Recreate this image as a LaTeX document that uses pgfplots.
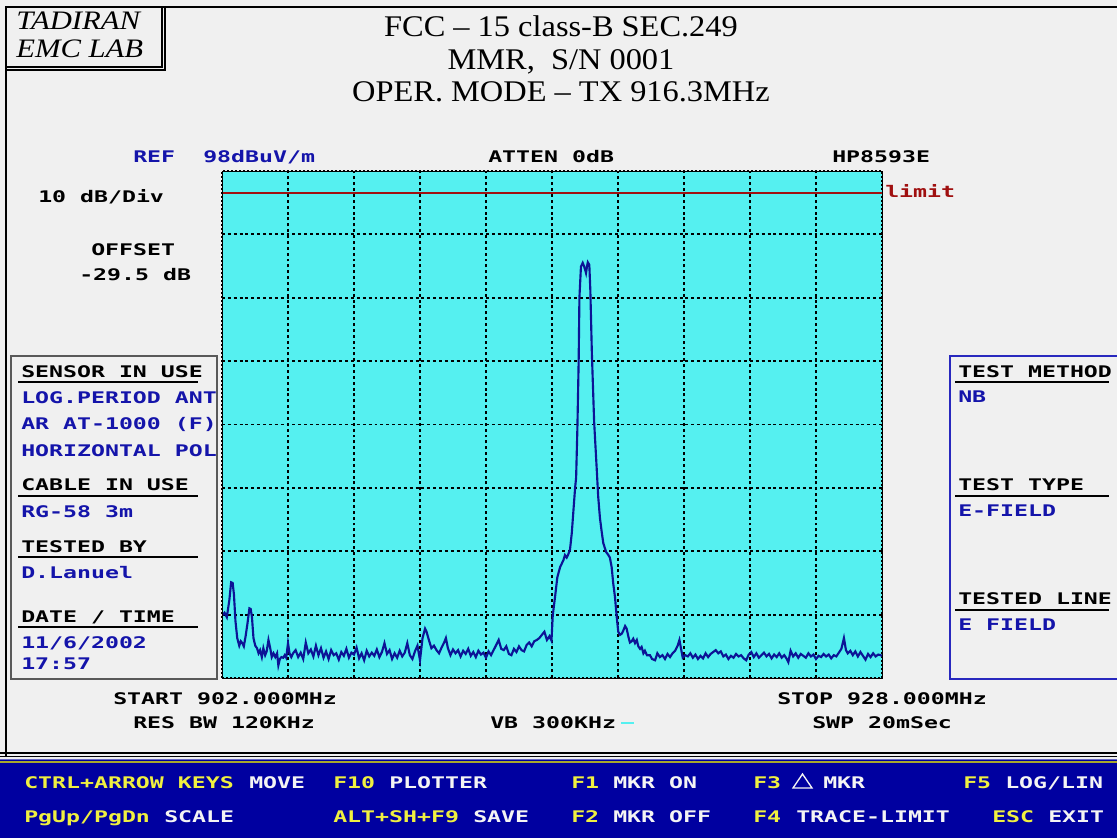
\documentclass[border=0pt]{standalone}
\usepackage{pgfplots}
\pgfplotsset{compat=1.18}
\usepackage{fontspec}
\setmainfont{Liberation Serif}
\newfontfamily\pixfont{DejaVu Sans Mono Bold}[FakeStretch=1.45]
\newfontfamily\ttlfont{Liberation Serif}[FakeStretch=1.08]
\newfontfamily\logofont{Liberation Serif Italic}[FakeStretch=1.15]
\newcommand\px{\pixfont\fontsize{12pt}{12pt}\selectfont}
\newcommand\ttl{\ttlfont\fontsize{22.5pt}{22.5pt}\selectfont}

\definecolor{bg}{RGB}{240,240,240}
\definecolor{scr}{RGB}{85,240,240}
\definecolor{trace}{RGB}{12,20,150}
\definecolor{tblue}{RGB}{20,20,170}
\definecolor{limred}{RGB}{160,16,16}
\definecolor{bar}{RGB}{0,0,160}
\definecolor{keyy}{RGB}{240,240,64}
\definecolor{keyw}{RGB}{244,244,244}
\definecolor{boxblue}{RGB}{40,40,190}

\begin{document}
\begin{tikzpicture}
\begin{scope}[x=0.75pt,y=-0.75pt]
\fill[bg] (0,0) rectangle (1117,838);
\useasboundingbox (0,0) rectangle (1117,838);

% screen frame
\draw[line width=0.9pt] (6,756) -- (6,7) -- (1117,7);
\draw[line width=0.9pt] (0,753) -- (1117,753);
\draw[line width=0.9pt] (0,756.5) -- (1117,756.5);

% logo
\draw[line width=0.8pt] (6,7) rectangle (162,67);
\draw[line width=0.8pt] (165,7) -- (165,70) -- (6,70);
\node[anchor=base west, inner sep=0] at (16,30) {\logofont\fontsize{20pt}{20pt}\selectfont TADIRAN};
\node[anchor=base west, inner sep=0] at (16,58) {\logofont\fontsize{20pt}{20pt}\selectfont EMC LAB};

% title
\node[anchor=base, inner sep=0] at (561,37) {\ttl FCC – 15 class-B SEC.249};
\node[anchor=base, inner sep=0] at (561,70) {\ttl MMR,\ \ S/N 0001};
\node[anchor=base, inner sep=0] at (561,102) {\ttl OPER. MODE – TX 916.3MHz};

% header line
\node[anchor=base west, inner sep=0, text=tblue] at (133,163) {\px REF};
\node[anchor=base west, inner sep=0, text=tblue] at (203,163) {\px 98dBuV/m};
\node[anchor=base west, inner sep=0] at (488,163) {\px ATTEN 0dB};
\node[anchor=base west, inner sep=0] at (832,163) {\px HP8593E};
\node[anchor=base west, inner sep=0] at (38,203) {\px 10 dB/Div};
\node[anchor=base west, inner sep=0] at (91,255) {\px OFFSET};
\node[anchor=base west, inner sep=0] at (79,280) {\px -29.5 dB};
\node[anchor=base west, inner sep=0, text=limred] at (885,197) {\px limit};

% left box
\draw[line width=1.2pt, black!65] (11,356) rectangle (217,679);
\foreach \yy in {382,496,557,627} \draw[line width=1pt] (18,\yy) -- (198,\yy);
\node[anchor=base west, inner sep=0] at (21,377) {\px SENSOR IN USE};
\node[anchor=base west, inner sep=0, text=tblue] at (21,403) {\px LOG.PERIOD ANT};
\node[anchor=base west, inner sep=0, text=tblue] at (21,429) {\px AR AT-1000 (F)};
\node[anchor=base west, inner sep=0, text=tblue] at (21,456) {\px HORIZONTAL POL};
\node[anchor=base west, inner sep=0] at (21,490) {\px CABLE IN USE};
\node[anchor=base west, inner sep=0, text=tblue] at (21,517) {\px RG-58 3m};
\node[anchor=base west, inner sep=0] at (21,552) {\px TESTED BY};
\node[anchor=base west, inner sep=0, text=tblue] at (21,578) {\px D.Lanuel};
\node[anchor=base west, inner sep=0] at (21,622) {\px DATE / TIME};
\node[anchor=base west, inner sep=0, text=tblue] at (21,648) {\px 11/6/2002};
\node[anchor=base west, inner sep=0, text=tblue] at (21,669) {\px 17:57};

% right box
\draw[line width=1.2pt, boxblue] (1118,356) -- (950,356) -- (950,679) -- (1118,679);
\foreach \yy in {382,496,610} \draw[line width=1pt] (955,\yy) -- (1109,\yy);
\node[anchor=base west, inner sep=0] at (958,377) {\px TEST METHOD};
\node[anchor=base west, inner sep=0, text=tblue] at (958,402) {\px NB};
\node[anchor=base west, inner sep=0] at (958,490) {\px TEST TYPE};
\node[anchor=base west, inner sep=0, text=tblue] at (958,516) {\px E-FIELD};
\node[anchor=base west, inner sep=0] at (958,604) {\px TESTED LINE};
\node[anchor=base west, inner sep=0, text=tblue] at (958,630) {\px E FIELD};

% below plot
\node[anchor=base west, inner sep=0] at (113,704) {\px START 902.000MHz};
\node[anchor=base west, inner sep=0] at (777,704) {\px STOP 928.000MHz};
\node[anchor=base west, inner sep=0] at (133,728) {\px RES BW 120KHz};
\node[anchor=base west, inner sep=0] at (490,728) {\px VB 300KHz};
\node[anchor=base west, inner sep=0] at (812,728) {\px SWP 20mSec};
\draw[scr, line width=1.5pt] (621,723) -- (634,723);

% key bar
\fill[bar] (0,759) rectangle (1117,838);
\draw[black!40!blue!60, line width=0.8pt] (0,759.5) -- (1117,759.5);
\draw[keyy!70!black, line width=1pt] (0,762) -- (1117,762);
\node[anchor=base west, inner sep=0, text=keyy] at (24,788) {\px CTRL+ARROW KEYS};
\node[anchor=base west, inner sep=0, text=keyw] at (249,788) {\px MOVE};
\node[anchor=base west, inner sep=0, text=keyy] at (333,788) {\px F10};
\node[anchor=base west, inner sep=0, text=keyw] at (389,788) {\px PLOTTER};
\node[anchor=base west, inner sep=0, text=keyy] at (571,788) {\px F1};
\node[anchor=base west, inner sep=0, text=keyw] at (613,788) {\px MKR ON};
\node[anchor=base west, inner sep=0, text=keyy] at (753,788) {\px F3};
\draw[keyw, line width=1pt] (793,788) -- (812,788) -- (802.5,774) -- cycle;
\node[anchor=base west, inner sep=0, text=keyw] at (823,788) {\px MKR};
\node[anchor=base west, inner sep=0, text=keyy] at (963,788) {\px F5};
\node[anchor=base west, inner sep=0, text=keyw] at (1005,788) {\px LOG/LIN};
\node[anchor=base west, inner sep=0, text=keyy] at (24,822) {\px PgUp/PgDn};
\node[anchor=base west, inner sep=0, text=keyw] at (164,822) {\px SCALE};
\node[anchor=base west, inner sep=0, text=keyy] at (333,822) {\px ALT+SH+F9};
\node[anchor=base west, inner sep=0, text=keyw] at (473,822) {\px SAVE};
\node[anchor=base west, inner sep=0, text=keyy] at (571,822) {\px F2};
\node[anchor=base west, inner sep=0, text=keyw] at (613,822) {\px MKR OFF};
\node[anchor=base west, inner sep=0, text=keyy] at (753,822) {\px F4};
\node[anchor=base west, inner sep=0, text=keyw] at (796,822) {\px TRACE-LIMIT};
\node[anchor=base west, inner sep=0, text=keyy] at (992,822) {\px ESC};
\node[anchor=base west, inner sep=0, text=keyw] at (1048,822) {\px EXIT};
\end{scope}

% spectrum
\begin{axis}[
    at={(166.5pt,-508.5pt)}, anchor=south west,
    width=495pt, height=380.25pt, scale only axis,
    xmin=902, xmax=928, ymin=18, ymax=98,
    xtick={904.6,907.2,909.8,912.4,915.0,917.6,920.2,922.8,925.4},
    ytick={28,38,48,58,68,78,88},
    xticklabels={}, yticklabels={},
    major tick length=0pt,
    grid=major,
    grid style={black, line width=1.4pt, dash pattern=on 2.2pt off 2.2pt},
    axis background/.style={fill=scr},
    axis line style={black, line width=2pt, dash pattern=on 1.5pt off 1.5pt},
    clip=true,
]
\addplot[limred, line width=1.5pt] coordinates {(902,94.5) (928,94.5)};
\addplot[trace, line width=1.6pt] coordinates {
(902.02,27.9) (902.10,28.3) (902.19,27.6) (902.29,30.3) (902.36,33.1) (902.42,33.0)
(902.47,31.2) (902.53,27.0) (902.60,24.3) (902.68,23.1) (902.74,23.8) (902.80,23.5)
(902.86,23.0) (902.93,24.6) (903.00,26.5) (903.08,29.0) (903.13,28.9) (903.18,27.6)
(903.24,24.3) (903.31,23.1) (903.38,22.7) (903.44,21.9) (903.50,22.4) (903.57,21.3)
(903.63,22.7) (903.70,21.6) (903.76,22.2) (903.83,24.0) (903.90,22.7) (903.96,21.3)
(904.03,21.9) (904.10,21.3) (904.17,21.9) (904.22,20.0) (904.28,21.0) (904.34,21.3)
(904.41,21.2) (904.47,21.6) (904.53,21.2) (904.60,23.5) (904.66,21.9) (904.73,21.3)
(904.80,21.9)
(904.9,22.4) (905.0,21.3) (905.1,22.0) (905.2,21.0) (905.3,23.6) (905.4,21.9)
(905.5,22.5) (905.6,21.4) (905.7,23.1) (905.8,21.6) (905.9,22.7) (906.0,21.2)
(906.1,22.2) (906.2,21.0) (906.3,22.4) (906.4,21.6) (906.5,21.9) (906.6,20.9)
(906.7,22.1) (906.8,21.5) (906.9,22.6) (907.0,21.2) (907.1,22.0) (907.2,21.7)
(907.3,22.8) (907.4,21.1) (907.5,21.9) (907.6,20.8) (907.7,22.3) (907.8,21.4)
(907.9,22.0) (908.0,21.5) (908.1,22.5) (908.2,21.3) (908.3,22.1) (908.4,23.5)
(908.5,21.8) (908.6,22.4) (908.7,21.0) (908.8,21.9) (908.9,21.2) (909.0,22.3)
(909.1,21.4) (909.2,22.0) (909.3,23.5) (909.4,21.6) (909.5,21.0) (909.6,22.2)
(909.7,23.1) (909.8,20.8) (909.9,24.3) (910.0,25.8) (910.05,25.4) (910.15,24.0)
(910.25,22.7) (910.35,23.1) (910.45,22.4) (910.55,21.9) (910.65,22.8) (910.75,23.6)
(910.82,24.3) (910.9,22.7) (911.0,21.6) (911.1,22.5) (911.2,21.9) (911.3,22.4)
(911.4,21.4) (911.5,22.3) (911.6,21.8) (911.7,22.6) (911.8,21.5) (911.9,22.1)
(912.0,21.3) (912.1,22.3) (912.2,21.7) (912.3,22.0) (912.4,21.2) (912.5,22.2)
(912.6,21.6) (912.7,22.4) (912.8,23.2) (912.9,24.0) (913.0,22.6) (913.1,22.4)
(913.2,23.0) (913.3,21.8) (913.4,21.6) (913.5,22.6) (913.6,22.1) (913.7,23.0)
(913.8,22.4) (913.9,22.2) (914.0,23.2) (914.1,23.6) (914.2,23.0) (914.3,23.8)
(914.4,24.0) (914.5,24.3) (914.6,24.8) (914.7,25.3) (914.8,24.0) (914.9,24.6)
(914.98,23.9)
(915.03,27.9) (915.12,30.8) (915.21,33.9) (915.32,35.5) (915.45,36.6) (915.51,37.4)
(915.58,37.0) (915.63,37.4) (915.71,38.3) (915.78,40.9) (915.84,44.2) (915.91,48.0)
(915.95,49.6) (916.00,57.4) (916.05,68.0) (916.08,78.0) (916.14,82.9) (916.21,83.5)
(916.26,83.0) (916.30,82.5) (916.34,81.9) (916.38,83.0) (916.41,83.6) (916.47,83.2)
(916.51,79.2) (916.57,69.3) (916.66,58.4) (916.76,51.1) (916.82,46.6) (916.89,43.2)
(916.96,41.0) (917.02,39.3) (917.13,37.9) (917.22,37.4) (917.28,37.0) (917.35,35.5)
(917.41,33.0) (917.48,30.8) (917.55,27.6) (917.61,25.3) (917.68,24.8) (917.75,25.0)
(917.81,25.5) (917.88,26.2) (917.94,25.8) (918.01,24.5) (918.07,23.6) (918.14,23.8)
(918.20,24.2) (918.27,23.5) (918.34,24.0) (918.40,23.0) (918.47,22.6) (918.53,22.9)
(918.60,21.9) (918.66,22.3) (918.74,21.6) (918.86,21.6) (918.94,21.0) (919.06,20.8)
(919.15,21.9) (919.25,21.3) (919.35,21.6) (919.45,21.0) (919.55,21.8) (919.65,21.3)
(919.75,21.9) (919.85,22.3) (919.95,23.1) (920.02,24.0) (920.08,22.7) (920.15,21.2)
(920.25,21.6) (920.35,21.4) (920.45,21.9) (920.55,21.2) (920.65,21.7) (920.75,21.0)
(920.85,21.5) (920.95,21.1) (921.05,21.9) (921.15,21.3) (921.25,21.8) (921.35,22.1)
(921.45,22.4) (921.55,21.9) (921.65,22.2) (921.75,21.4) (921.85,21.7) (921.95,21.0)
(922.05,21.5) (922.15,21.2) (922.25,21.8) (922.35,21.4) (922.45,21.6) (922.55,21.1)
(922.65,20.8) (922.75,21.7) (922.85,22.1) (922.95,21.3) (923.05,21.9) (923.15,21.2)
(923.25,21.6) (923.35,22.0) (923.45,21.4) (923.55,21.8) (923.65,21.1) (923.75,21.7)
(923.85,21.3) (923.95,21.9) (924.05,21.2) (924.15,21.6) (924.25,21.0) (924.31,20.5)
(924.4,22.3) (924.5,21.4) (924.6,21.9) (924.7,21.2) (924.8,21.8) (924.9,21.5)
(925.0,21.2) (925.1,21.9) (925.2,21.4) (925.3,21.7) (925.4,21.0) (925.5,21.5)
(925.6,21.3) (925.7,21.8) (925.8,21.4) (925.9,21.7) (926.0,21.1) (926.1,21.6)
(926.2,21.4) (926.3,22.0) (926.4,22.6) (926.5,24.3) (926.58,22.4) (926.65,21.9)
(926.75,22.3) (926.85,21.6) (926.95,22.2) (927.05,21.4) (927.15,22.1) (927.25,21.5)
(927.35,20.9) (927.45,21.8) (927.55,21.3) (927.65,21.9) (927.75,21.4) (927.85,21.7)
(927.95,21.6) (928.0,21.5)
};
\end{axis}
\begin{scope}[x=0.75pt,y=-0.75pt]
\draw[black, line width=0.6pt] (222,171) rectangle (882,678);
\end{scope}
\end{tikzpicture}
\end{document}
